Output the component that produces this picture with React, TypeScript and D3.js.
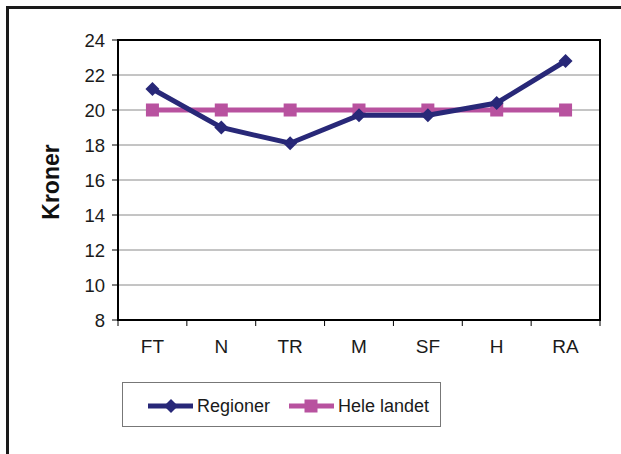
import { useEffect } from 'react'
import * as d3 from "d3";

const categories = ["FT", "N", "TR", "M", "SF", "H", "RA"];
const regioner = [21.2, 19.0, 18.1, 19.7, 19.7, 20.4, 22.8];
const heleLandet = [20, 20, 20, 20, 20, 20, 20];
const yTicks = [8, 10, 12, 14, 16, 18, 20, 22, 24];

const NAVY = "#282878";
const PINK = "#b8529f";

function App() {
  const width = 621;
  const height = 454;
  const marginLeft = 118;
  const marginRight = 21;
  const marginTop = 40;
  const plotBottom = 320;

  useEffect(() => {
    document.body.style.margin = "0";
  }, []);

  const x = d3.scaleBand<string>()
    .domain(categories)
    .range([marginLeft, width - marginRight]);
  const y = d3.scaleLinear([8, 24], [plotBottom, marginTop]);

  const cx = (c: string) => (x(c) ?? 0) + x.bandwidth() / 2;

  const line = d3.line<number>()
    .x((_, i) => cx(categories[i]))
    .y(d => y(d));

  const boundaries = categories.map(c => x(c) ?? 0).concat([width - marginRight]);

  const diamond = (px: number, py: number, r: number) =>
    `M${px},${py - r}L${px + r},${py}L${px},${py + r}L${px - r},${py}Z`;

  return (
    <svg width={width} height={height} style={{ display: "block", background: "white", fontFamily: "'Liberation Sans', Arial, sans-serif" }}>
      {/* outer frame, only left and top edges visible */}
      <line x1={7.5} x2={width} y1={7.5} y2={7.5} stroke="#1a1a1a" strokeWidth={3} />
      <line x1={7.5} x2={7.5} y1={6} y2={height} stroke="#1a1a1a" strokeWidth={3} />

      {/* gridlines */}
      {yTicks.map(t => (
        <line key={`g${t}`} x1={marginLeft} x2={width - marginRight} y1={y(t)} y2={y(t)} stroke="#8a8a8a" strokeWidth={1} />
      ))}

      {/* y ticks + labels */}
      {yTicks.map(t => (
        <g key={`y${t}`}>
          <line x1={marginLeft - 6} x2={marginLeft} y1={y(t)} y2={y(t)} stroke="black" strokeWidth={1} />
          <text x={marginLeft - 13} y={y(t)} dy="0.36em" textAnchor="end" fontSize={18.5} fill="#1a1a1a">{t}</text>
        </g>
      ))}

      {/* x ticks + labels */}
      {boundaries.map((b, i) => (
        <line key={`xt${i}`} x1={b} x2={b} y1={plotBottom} y2={plotBottom + 6} stroke="black" strokeWidth={1} />
      ))}
      {categories.map(c => (
        <text key={`xl${c}`} x={cx(c)} y={plotBottom + 33} textAnchor="middle" fontSize={19} fill="#1a1a1a">{c}</text>
      ))}

      {/* plot frame */}
      <rect x={marginLeft} y={marginTop} width={width - marginLeft - marginRight} height={plotBottom - marginTop}
        fill="none" stroke="black" strokeWidth={2} />

      {/* y axis title */}
      <text transform={`translate(59,${(marginTop + plotBottom) / 2 + 2}) rotate(-90)`} textAnchor="middle"
        fontSize={23} fontWeight="bold" fill="#111">Kroner</text>

      {/* series: Hele landet */}
      <path d={line(heleLandet) ?? ""} fill="none" stroke={PINK} strokeWidth={5} />
      {heleLandet.map((v, i) => (
        <rect key={`hl${i}`} x={cx(categories[i]) - 6.5} y={y(v) - 6.5} width={13} height={13} fill={PINK} />
      ))}

      {/* series: Regioner */}
      <path d={line(regioner) ?? ""} fill="none" stroke={NAVY} strokeWidth={5} />
      {regioner.map((v, i) => (
        <path key={`r${i}`} d={diamond(cx(categories[i]), y(v), 7)} fill={NAVY} />
      ))}

      {/* legend */}
      <rect x={122.5} y={382.5} width={318} height={44} fill="white" stroke="#777" strokeWidth={1} />
      <line x1={148} x2={193} y1={406} y2={406} stroke={NAVY} strokeWidth={5} />
      <path d={diamond(171, 406, 7)} fill={NAVY} />
      <text x={197} y={406} dy="0.36em" fontSize={18} fill="#1a1a1a">Regioner</text>
      <line x1={289} x2={334} y1={406} y2={406} stroke={PINK} strokeWidth={5} />
      <rect x={304.5} y={399.5} width={13} height={13} fill={PINK} />
      <text x={338} y={406} dy="0.36em" fontSize={18} fill="#1a1a1a">Hele landet</text>
    </svg>
  );
}

export default App;
